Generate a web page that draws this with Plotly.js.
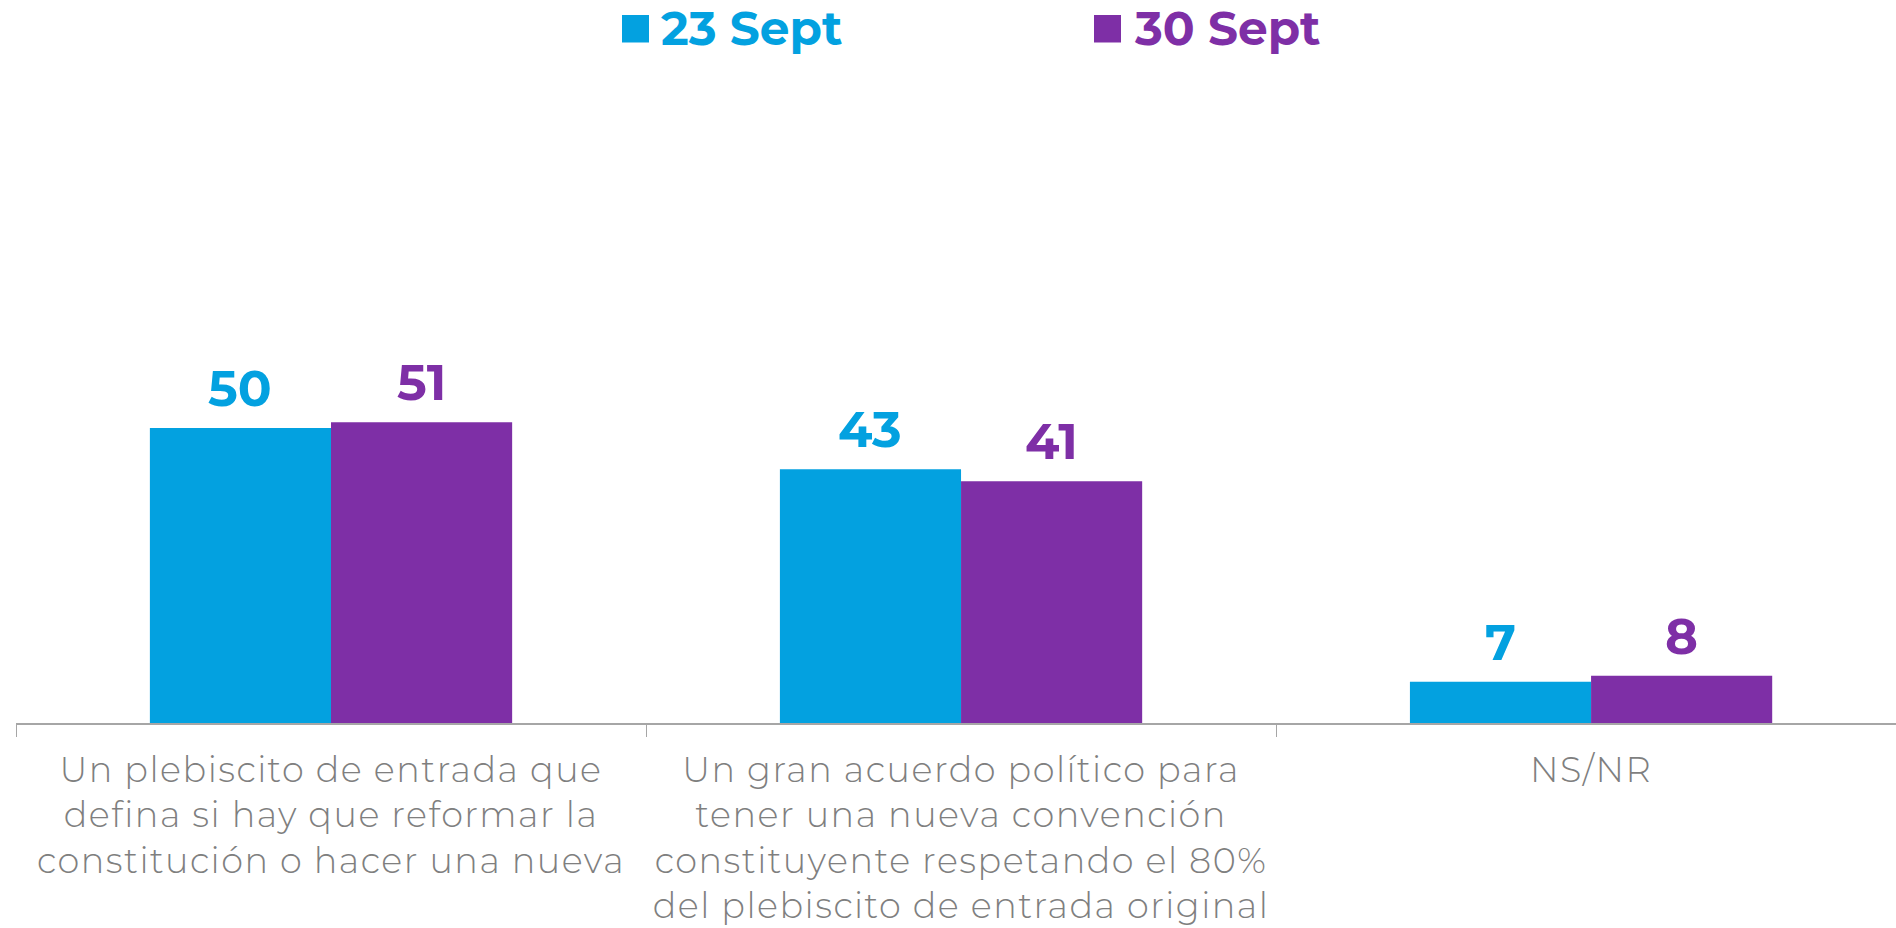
<!DOCTYPE html>
<html>
<head>
<meta charset="utf-8">
<script src="https://cdn.plot.ly/plotly-3.0.1.min.js"></script>
<style>
html,body{margin:0;padding:0;background:#fff;overflow:hidden}
.xtick text{letter-spacing:1.5px}
</style>
</head>
<body>
<div id="chart" style="width:1896px;height:928px"></div>
<script>
const categories = [
  "Un plebiscito de entrada que<br>defina si hay que reformar la<br>constitución o hacer una nueva",
  "Un gran acuerdo político para<br>tener una nueva convención<br>constituyente respetando el 80%<br>del plebiscito de entrada original",
  "NS/NR"
];
const seriesNames = ["23 Sept", "30 Sept"];
const sept23 = [50, 43, 7];
const sept30 = [51, 41, 8];
const colors = ["#03A1E0", "#7E2FA6"];

const fontFam = "Montserrat, 'DejaVu Sans', sans-serif";

const W = 1896, H = 928;
const M = {l: 16, r: 0, t: 60, b: 205};
const xRange = [-0.5, 2.484];
const bargap = 0.425;
const series = [sept23, sept30];

const traces = series.map((vals, i) => ({
  type: "bar",
  name: seriesNames[i],
  x: categories,
  y: vals,
  marker: {color: colors[i]},
  hoverinfo: "x+y"
}));

const px2x = p => (p - M.l) / (W - M.l - M.r);
const px2y = p => (H - M.b - p) / (H - M.t - M.b);

// legend keys (squares + labels)
const legendX = [[622, 649, 661], [1094, 1121, 1134]];
const shapes = legendX.map((lx, i) => ({
  type: "rect", xref: "paper", yref: "paper",
  x0: px2x(lx[0]), x1: px2x(lx[1]), y0: px2y(42.5), y1: px2y(15),
  fillcolor: colors[i], line: {width: 0}
}));
const annotations = legendX.map((lx, i) => ({
  xref: "paper", yref: "paper", x: px2x(lx[2]), y: px2y(29),
  xanchor: "left", yanchor: "middle", showarrow: false,
  borderpad: 0, borderwidth: 0,
  text: "<b>" + seriesNames[i] + "</b>",
  font: {family: fontFam, size: 47, color: colors[i]}
}));

// value labels above each bar
const catPx = (W - M.l - M.r) / (xRange[1] - xRange[0]);
const barPx = catPx * (1 - bargap) / series.length;
series.forEach((vals, i) => {
  vals.forEach((v, j) => {
    annotations.push({
      x: categories[j], y: v, xref: "x", yref: "y",
      xshift: (i - (series.length - 1) / 2) * barPx,
      yshift: 7,
      xanchor: "center", yanchor: "bottom", showarrow: false,
      text: "<b>" + v + "</b>",
      font: {family: fontFam, size: 50, color: colors[i]}
    });
  });
});

const layout = {
  width: W, height: H,
  margin: M,
  paper_bgcolor: "#ffffff",
  plot_bgcolor: "#ffffff",
  showlegend: false,
  barmode: "group",
  bargap: bargap,
  bargroupgap: 0,
  xaxis: {
    type: "category",
    range: xRange,
    tickson: "boundaries",
    ticks: "outside",
    ticklen: 12,
    tickwidth: 1,
    tickcolor: "#a6a6a6",
    showline: true,
    linecolor: "#a6a6a6",
    linewidth: 1.5,
    showgrid: false,
    zeroline: false,
    ticklabelstandoff: 15,
    tickfont: {family: fontFam, size: 35, color: "#7f7f7f", weight: 300},
    automargin: false
  },
  yaxis: {
    range: [0, 112.4],
    visible: false,
    showgrid: false,
    zeroline: false,
    fixedrange: true
  },
  shapes: shapes,
  annotations: annotations
};

Plotly.newPlot("chart", traces, layout, {displayModeBar: false, staticPlot: true});
</script>
</body>
</html>
